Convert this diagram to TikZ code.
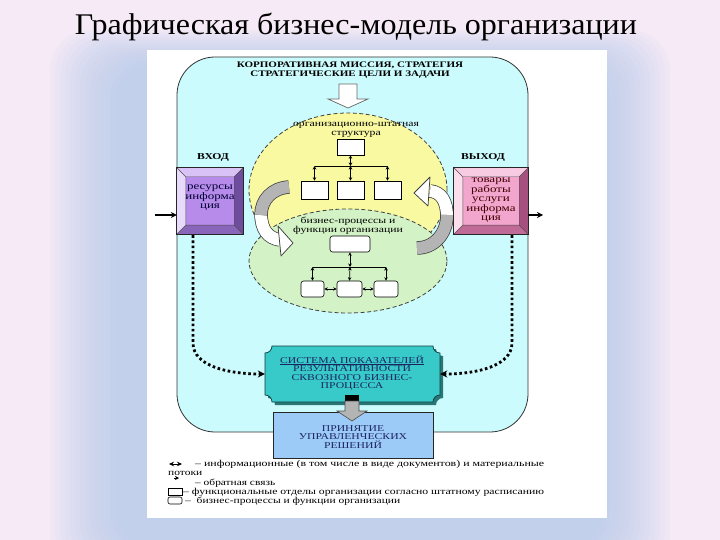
\documentclass[tikz,border=0pt]{standalone}
\usepackage{fontspec}
\setmainfont{Liberation Serif}
\newfontfamily\dfont[FakeStretch=1.3]{Liberation Serif}
\usetikzlibrary{arrows.meta,calc,shapes.geometric}
\definecolor{bgpink}{HTML}{F6EAF6}
\definecolor{glowblue}{HTML}{B0C8EC}
\definecolor{cyanbg}{HTML}{CBFBFC}
\definecolor{yellowE}{HTML}{F9F9A2}
\definecolor{greenE}{HTML}{D3F3C6}
\definecolor{pFace}{HTML}{B68BEA}
\definecolor{pTop}{HTML}{D9C2F5}
\definecolor{pLeft}{HTML}{E8DAFA}
\definecolor{pRight}{HTML}{6E4C9E}
\definecolor{pBot}{HTML}{8A66BA}
\definecolor{kFace}{HTML}{F3A6CD}
\definecolor{kTop}{HTML}{F8CBE2}
\definecolor{kLeft}{HTML}{FBDDEB}
\definecolor{kRight}{HTML}{A6507F}
\definecolor{kBot}{HTML}{C06A98}
\definecolor{teal}{HTML}{38C9C9}
\definecolor{tealsh}{HTML}{2A7676}
\definecolor{navy}{HTML}{1C2560}
\definecolor{lblue}{HTML}{9DCBF8}
\definecolor{agray}{HTML}{B4B4B4}
\begin{document}
\begin{tikzpicture}[x=1pt,y=-1pt,
  lbl/.style={font=\dfont\fontsize{9}{8.5}\selectfont, align=center, inner sep=0pt},
  blbl/.style={font=\dfont\fontsize{10}{9}\selectfont, align=center, inner sep=0pt},
  capl/.style={font=\dfont\bfseries\fontsize{8.5}{8.5}\selectfont, align=center, inner sep=0pt},
  legt/.style={font=\dfont\fontsize{9}{9}\selectfont, anchor=west, inner sep=0pt},
  obox/.style={draw=black, fill=white, line width=0.6pt, inner sep=0pt},
  sa/.style={{Stealth[length=3.5pt,width=3.5pt]}-{Stealth[length=3.5pt,width=3.5pt]}, line width=0.7pt},
  dotl/.style={line width=2.8pt, dash pattern=on 2.6pt off 2.6pt, -{Stealth[length=7pt,width=7pt]}},
  band/.style={line width=13.5pt, draw=black!75},
  bandf/.style={line width=12pt}
]
\useasboundingbox (0,0) rectangle (720,540);
% background
\fill[bgpink] (0,0) rectangle (720,540);
\foreach \i in {0,...,13} {
  \fill[glowblue, opacity=0.075, rounded corners=40] ({50+5*\i},{30+2.5*\i}) rectangle ({670-5*\i},{575-2*\i});
}
\node[font=\fontsize{30}{30}\selectfont, inner sep=0pt] (title) at (356,27) {\resizebox{562pt}{\height}{Графическая бизнес-модель организации}};
\fill[white] (147,50) rectangle (607,518);
% main rounded frame
\draw[fill=cyanbg, draw=black!80, line width=0.8pt, rounded corners=38] (177,57) rectangle (528,432);
\node[capl] (mission) at (350,70) {КОРПОРАТИВНАЯ МИССИЯ, СТРАТЕГИЯ\\СТРАТЕГИЧЕСКИЕ ЦЕЛИ И ЗАДАЧИ};
\draw[fill=white, draw=black!60, line width=0.7pt] (339,84) -- (357,84) -- (357,99) -- (368,99) -- (348,108) -- (328,99) -- (339,99) -- cycle;
% ellipses
\node[ellipse, draw=black!75, fill=yellowE, dash pattern=on 4pt off 2.5pt, line width=0.8pt, minimum width=198, minimum height=154, inner sep=0pt] (yell) at (348,190) {};
\node[ellipse, draw=black!75, fill=greenE, dash pattern=on 4pt off 2.5pt, line width=0.8pt, minimum width=198, minimum height=104, inner sep=0pt] (gre) at (348,261) {};
% org structure
\node[lbl] (orgtxt) at (356,130) {организационно-штатная\\структура};
\node[obox, minimum width=27, minimum height=16] (t1) at (350.5,147) {};
\coordinate (barC) at (350.5,166);
\coordinate (barL) at (314.5,166);
\coordinate (barR) at (387.5,166);
\node[obox, minimum width=27, minimum height=18] (b1) at (314.5,190) {};
\node[obox, minimum width=27, minimum height=18] (b2) at (350.5,190) {};
\node[obox, minimum width=27, minimum height=18] (b3) at (387.5,190) {};
\draw[sa] (t1.south) -- (barC);
\draw[line width=0.7pt] (barL) -- (barR);
\draw[sa] (barL) -- (b1.north);
\draw[sa] (barC) -- (b2.north);
\draw[sa] (barR) -- (b3.north);
% business processes
\node[lbl] (bptxt) at (348,226) {бизнес-процессы и\\функции организации};
\node[obox, rounded corners=2.5, minimum width=40, minimum height=16] (g0) at (350,244) {};
\coordinate (gbarC) at (350,267);
\coordinate (gbarL) at (312.5,267);
\coordinate (gbarR) at (386,267);
\node[obox, rounded corners=2.5, minimum width=23, minimum height=16] (g1) at (312.5,289) {};
\node[obox, rounded corners=2.5, minimum width=25, minimum height=16] (g2) at (349.5,289) {};
\node[obox, rounded corners=2.5, minimum width=24, minimum height=16] (g3) at (386,289) {};
\draw[sa] (g0.south) -- (gbarC);
\draw[line width=0.7pt] (gbarL) -- (gbarR);
\draw[sa] (gbarL) -- (g1.north);
\draw[sa] (gbarC) -- (g2.north);
\draw[sa] (gbarR) -- (g3.north);
\draw[sa] (g1.east) -- (g2.west);
\draw[sa] (g2.east) -- (g3.west);
% curved arrows left
\draw[band] (261,213) .. controls (261,230) and (268,238) .. (280,240);
\draw[bandf, white] (261,213) .. controls (261,230) and (268,238) .. (280,240);
\draw[band] (289,187) .. controls (272,188) and (261,200) .. (261,215);
\draw[bandf, agray] (289,187) .. controls (272,188) and (261,200) .. (261,215);
\draw[fill=white, draw=black!75, line width=0.75pt, line join=round] (278,226) -- (293,243) -- (281,256) -- cycle;
% curved arrows right
\draw[band] (447,217) .. controls (447,201) and (441,192) .. (430,191);
\draw[bandf, white] (447,217) .. controls (447,201) and (441,192) .. (430,191);
\draw[band] (417,248) .. controls (434,248) and (447,234) .. (447,215);
\draw[bandf, agray] (417,248) .. controls (434,248) and (447,234) .. (447,215);
\draw[fill=white, draw=black!75, line width=0.75pt, line join=round] (430,177) -- (414,193) -- (428,206) -- cycle;
% input / output labels
\node[capl, font=\dfont\bfseries\fontsize{9}{9}\selectfont] (vhod) at (213,157) {ВХОД};
\node[capl, font=\dfont\bfseries\fontsize{9}{9}\selectfont] (vyhod) at (483,157) {ВЫХОД};
% input bevel box
\node[minimum width=66, minimum height=66, inner sep=0pt] (inb) at (210,201) {};
\coordinate (inNW) at ($(inb.north west)+(9,9)$);
\coordinate (inNE) at ($(inb.north east)+(-9,9)$);
\coordinate (inSE) at ($(inb.south east)+(-9,-9)$);
\coordinate (inSW) at ($(inb.south west)+(9,-9)$);
\fill[pTop] (inb.north west) -- (inb.north east) -- (inNE) -- (inNW) -- cycle;
\fill[pRight] (inb.north east) -- (inb.south east) -- (inSE) -- (inNE) -- cycle;
\fill[pBot] (inb.south east) -- (inb.south west) -- (inSW) -- (inSE) -- cycle;
\fill[pLeft] (inb.south west) -- (inb.north west) -- (inNW) -- (inSW) -- cycle;
\fill[pFace] (inNW) rectangle (inSE);
\draw[black!70, line width=0.4pt] (inNW) rectangle (inSE) (inb.north west) -- (inNW) (inb.north east) -- (inNE) (inb.south east) -- (inSE) (inb.south west) -- (inSW);
\draw[black!85, line width=0.8pt] (inb.north west) rectangle (inb.south east);
\node[blbl, text=black!80!blue] (intxt) at (210,198) {ресурсы\\информа\\ция};
% output bevel box
\node[minimum width=74, minimum height=66, inner sep=0pt] (outb) at (491,201) {};
\coordinate (oNW) at ($(outb.north west)+(9,9)$);
\coordinate (oNE) at ($(outb.north east)+(-9,9)$);
\coordinate (oSE) at ($(outb.south east)+(-9,-9)$);
\coordinate (oSW) at ($(outb.south west)+(9,-9)$);
\fill[kTop] (outb.north west) -- (outb.north east) -- (oNE) -- (oNW) -- cycle;
\fill[kRight] (outb.north east) -- (outb.south east) -- (oSE) -- (oNE) -- cycle;
\fill[kBot] (outb.south east) -- (outb.south west) -- (oSW) -- (oSE) -- cycle;
\fill[kLeft] (outb.south west) -- (outb.north west) -- (oNW) -- (oSW) -- cycle;
\fill[kFace] (oNW) rectangle (oSE);
\draw[black!70, line width=0.4pt] (oNW) rectangle (oSE) (outb.north west) -- (oNW) (outb.north east) -- (oNE) (outb.south east) -- (oSE) (outb.south west) -- (oSW);
\draw[black!85, line width=0.8pt] (outb.north west) rectangle (outb.south east);
\node[blbl, text=black!75!red] (outtxt) at (491,200) {товары\\работы\\услуги\\информа\\ция};
% in/out arrows
\coordinate (inS) at (155,215);
\coordinate (outE) at (543,215);
\draw[line width=1.2pt, -{Stealth[length=6pt,width=6pt]}] (inS) -- (inb.west |- inS);
\draw[line width=1.2pt, -{Stealth[length=6pt,width=6pt]}] (outb.east |- outE) -- (outE);
% KPI plaque
\node[minimum width=175, minimum height=56, inner sep=0pt] (kpi) at (352.5,374) {};
\begin{scope}[shift={(kpi.center)}]
  \fill[tealsh, shift={(3,3)}] (-80.5,-28) -- (80.5,-28) arc[start angle=180,end angle=90,radius=7] -- (87.5,21) arc[start angle=270,end angle=180,radius=7] -- (-80.5,28) arc[start angle=0,end angle=-90,radius=7] -- (-87.5,-21) arc[start angle=90,end angle=0,radius=7] -- cycle;
  \draw[fill=teal, draw=black!70!teal, line width=0.7pt] (-80.5,-28) -- (80.5,-28) arc[start angle=180,end angle=90,radius=7] -- (87.5,21) arc[start angle=270,end angle=180,radius=7] -- (-80.5,28) arc[start angle=0,end angle=-90,radius=7] -- (-87.5,-21) arc[start angle=90,end angle=0,radius=7] -- cycle;
\end{scope}
\node[lbl, text=navy] (kpitxt) at (352,373) {\underline{СИСТЕМА ПОКАЗАТЕЛЕЙ}\\РЕЗУЛЬТАТИВНОСТИ\\СКВОЗНОГО БИЗНЕС-\\ПРОЦЕССА};
% decisions box
\node[draw=black!85, fill=lblue, line width=0.8pt, minimum width=160, minimum height=46, inner sep=0pt] (dec) at (353,435) {};
\node[lbl, text=navy] (dectxt) at (353,437) {ПРИНЯТИЕ\\УПРАВЛЕНЧЕСКИХ\\РЕШЕНИЙ};
% block arrow
\fill[black] (345,395) rectangle (359,401);
\draw[fill=agray, draw=black!70, line width=0.6pt] (345,401) -- (359,401) -- (359,411) -- (367,411) -- (352,421) -- (337,411) -- (345,411) -- cycle;
% dotted feedback
\draw[dotl] ($(inb.south)+(-17,1)$) -- (193,343) .. controls (193,366) and (228,374) .. (kpi.west);
\draw[dotl] ($(outb.south)+(21,1)$) -- (512,343) .. controls (512,366) and (477,374) .. (kpi.east);
% legend
\coordinate (l1a) at (169,464);
\coordinate (l1b) at (182,464);
\draw[{Stealth[length=5pt,width=4.5pt]}-{Stealth[length=5pt,width=4.5pt]}, line width=0.6pt] (l1a) -- (l1b);
\node[legt] (lg1) at (195,464) {\resizebox{349pt}{\height}{– информационные (в том числе в виде документов) и материальные}};
\node[legt] (lg2) at (168,473) {\resizebox{34pt}{\height}{потоки}};
\coordinate (l3a) at (174,478);
\coordinate (l3b) at (179,478);
\draw[-{Stealth[length=4pt,width=4pt]}, line width=0.6pt] (l3a) -- (l3b);
\node[legt] (lg3) at (195,483) {\resizebox{80pt}{\height}{– обратная связь}};
\node[draw=black, line width=0.6pt, minimum width=14, minimum height=7, inner sep=0pt] (ic4) at (175,491.5) {};
\node[legt] (lg4) at (183,492) {\resizebox{361pt}{\height}{– функциональные отделы организации согласно штатному расписанию}};
\node[draw=black, line width=0.6pt, rounded corners=2, minimum width=14, minimum height=7, inner sep=0pt] (ic5) at (175,500.5) {};
\node[legt] (lg5) at (185,501) {\resizebox{215pt}{\height}{– \ бизнес-процессы и функции организации}};
\end{tikzpicture}
\end{document}
